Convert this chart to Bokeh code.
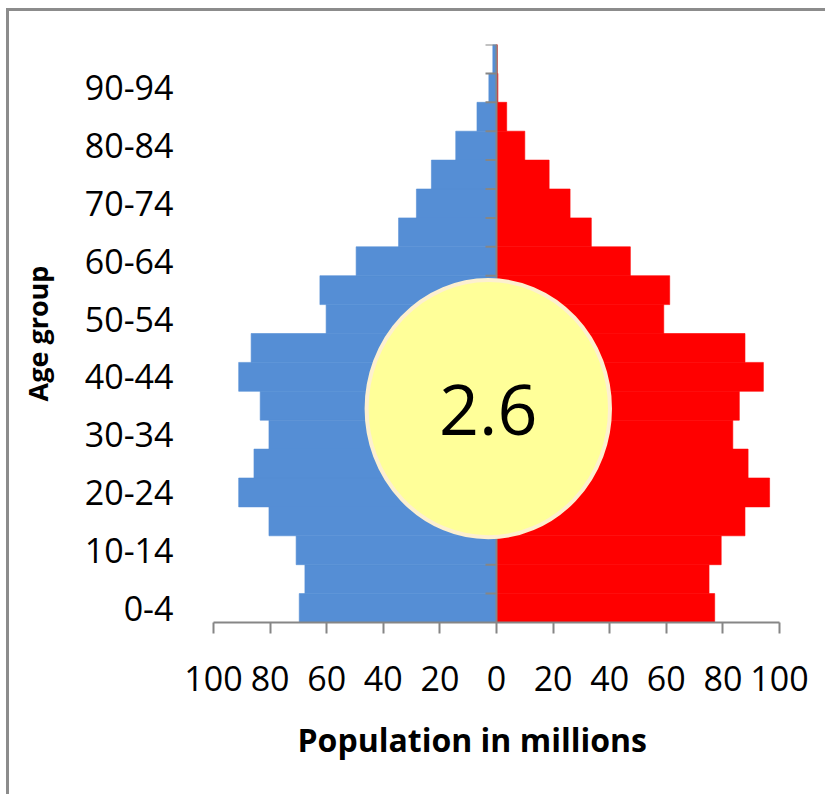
from bokeh.plotting import figure
from bokeh.models import FixedTicker, Title
from bokeh.embed import file_html
from bokeh.resources import INLINE
from bokeh.core.properties import value

# ---- data ----
age_groups = ["0-4", "5-9", "10-14", "15-19", "20-24", "25-29", "30-34", "35-39",
              "40-44", "45-49", "50-54", "55-59", "60-64", "65-69", "70-74", "75-79",
              "80-84", "85-89", "90-94", "95-99"]
left_values = [69.7, 67.7, 70.8, 80.4, 91.1, 85.7, 80.4, 83.5, 91.1, 86.7,
               60.2, 62.4, 49.6, 34.6, 28.3, 23.0, 14.4, 6.9, 2.7, 1.3]
right_values = [77.1, 75.1, 79.4, 87.8, 96.5, 88.9, 83.5, 85.8, 94.3, 87.8,
                59.1, 61.2, 47.3, 33.5, 26.0, 18.6, 10.0, 3.6, 0.5, 0.3]
x_ticks = [-100, -80, -60, -40, -20, 0, 20, 40, 60, 80, 100]
badge_text = "2.6"
x_title = "Population  in millions"
y_title = "Age group"

BLUE = "#558ED5"
RED = "#FF0000"
GRAY = "#868686"
FONT = "Open Sans"

n = len(age_groups)
ys = list(range(n))
y_lo, y_hi = -0.5, n - 0.5

p = figure(width=819, height=786, output_backend="svg", toolbar_location=None,
           x_range=(-100, 100), y_range=(y_lo, y_hi),
           min_border_left=204, min_border_right=49, min_border_top=33,
           min_border_bottom=175, background_fill_color="white",
           border_fill_color="white")
p.styles = {"border-left": "3px solid #8c8c8c", "border-top": "3px solid #8c8c8c",
            "margin-left": "6px", "margin-top": "8px"}
p.outline_line_color = None
p.xgrid.visible = False
p.ygrid.visible = False

# bars
p.hbar(y=ys, left=[-v for v in left_values], right=0, height=1.0,
       fill_color=BLUE, line_color=BLUE, line_width=0.6)
p.hbar(y=ys, left=0, right=right_values, height=1.0,
       fill_color=RED, line_color=RED, line_width=0.6)

# central vertical (category) axis with ticks
p.segment(x0=[0], y0=[y_lo], x1=[0], y1=[y_hi], line_color=GRAY, line_width=2)
tick_len = 11 / (566 / 200.0)
bounds = [k + 0.5 for k in range(n)]
p.segment(x0=[0] * n, y0=bounds, x1=[-tick_len] * n, y1=bounds,
          line_color=GRAY, line_width=2)

# badge
p.ellipse(x=[-2.9], y=[6.9], width=86, height=8.9, fill_color="#FFFF99",
          line_color="#FDF0CF", line_width=4)
p.text(x=[-2.9], y=[6.87], text=[badge_text], text_font=value(FONT),
       text_font_size="70px", text_align="center", text_baseline="middle",
       text_color="black")

# x axis
xa = p.xaxis[0]
xa.ticker = FixedTicker(ticks=x_ticks)
xa.major_label_overrides = {t: str(abs(t)) for t in x_ticks}
xa.axis_line_color = GRAY
xa.axis_line_width = 2
xa.major_tick_line_color = GRAY
xa.major_tick_line_width = 2
xa.major_tick_out = 11
xa.major_tick_in = 0
xa.minor_tick_line_color = None
xa.major_label_standoff = 32
xa.major_label_text_font = FONT
xa.major_label_text_font_size = "34px"
xa.major_label_text_color = "black"

# y axis (labels only)
ya = p.yaxis[0]
ya.ticker = FixedTicker(ticks=list(range(0, n, 2)))
ya.major_label_overrides = {i: age_groups[i] for i in range(0, n, 2)}
ya.axis_line_color = None
ya.major_tick_line_color = None
ya.minor_tick_line_color = None
ya.major_tick_out = 0
ya.major_tick_in = 0
ya.major_label_standoff = 40
ya.major_label_text_font = FONT
ya.major_label_text_font_size = "34px"
ya.major_label_text_color = "black"
ya.axis_label = y_title
ya.axis_label_text_font = FONT
ya.axis_label_text_font_style = "bold"
ya.axis_label_text_font_size = "27px"
ya.axis_label_standoff = 26
ya.axis_label_text_color = "black"

p.add_layout(Title(text=x_title, align="left", offset=84, standoff=44,
                   text_font=FONT, text_font_style="bold", text_font_size="32px",
                   text_color="black"), "below")

open("out.html", "w").write(file_html(p, INLINE))
